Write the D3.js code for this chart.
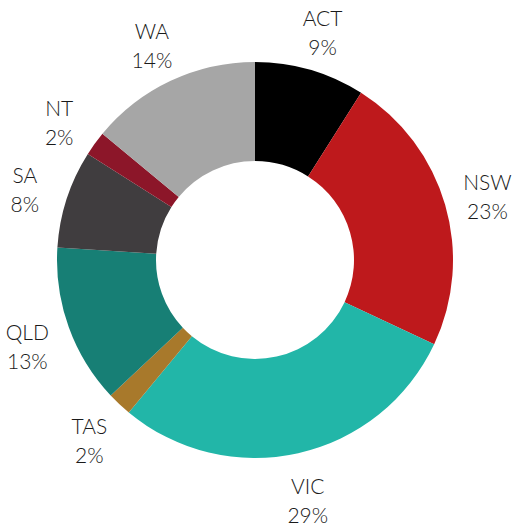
<!DOCTYPE html>
<html>
<head>
<meta charset="utf-8">
<script src="https://cdn.jsdelivr.net/npm/d3@7"></script>
<style>
  body { margin: 0; background: #fff; }
  .lbl { font-family: Lato, "Noto Sans", sans-serif; font-size: 21px; font-weight: 300; fill: #1a1a1a; }
</style>
</head>
<body>
<svg id="chart"></svg>
<script>
// data
const states = ["ACT", "NSW", "VIC", "TAS", "QLD", "SA", "NT", "WA"]
const shares = [9, 23, 29, 2, 13, 8, 2, 14]
const colours = ["#000000", "#be191c", "#22b6a8", "#a8792b", "#177f75", "#403d3f", "#8c1629", "#a6a6a6"]

const dims = { width: 512, height: 526, cx: 255, cy: 260, outer: 198, inner: 99 }

const svg = d3.select("#chart")
    .attr("width", dims.width)
    .attr("height", dims.height)

const data = states.map((s, i) => ({ state: s, value: shares[i], colour: colours[i] }))

const pie = d3.pie()
    .value(d => d.value)
    .sort(null)

const arc = d3.arc()
    .innerRadius(dims.inner)
    .outerRadius(dims.outer)

const g = svg.append("g")
    .attr("transform", `translate(${dims.cx},${dims.cy})`)

const arcs = pie(data)

g.selectAll("path").data(arcs).enter().append("path")
    .attr("d", arc)
    .attr("fill", d => d.data.colour)

// labels sit outside the ring, centred on the slice mid-angle
const labelArc = d3.arc().innerRadius(242).outerRadius(242)
const lineGap = 29

const labels = g.selectAll("text").data(arcs).enter().append("text")
    .attr("class", "lbl")
    .attr("text-anchor", "middle")
    .attr("transform", d => {
        let [x, y] = labelArc.centroid(d)
        return `translate(${x},${y + 5})`
    })
labels.append("tspan")
    .attr("x", 0)
    .attr("y", -7)
    .text(d => d.data.state)
labels.append("tspan")
    .attr("x", 0)
    .attr("y", -7 + lineGap)
    .text(d => d.data.value + "%")
</script>
</body>
</html>
